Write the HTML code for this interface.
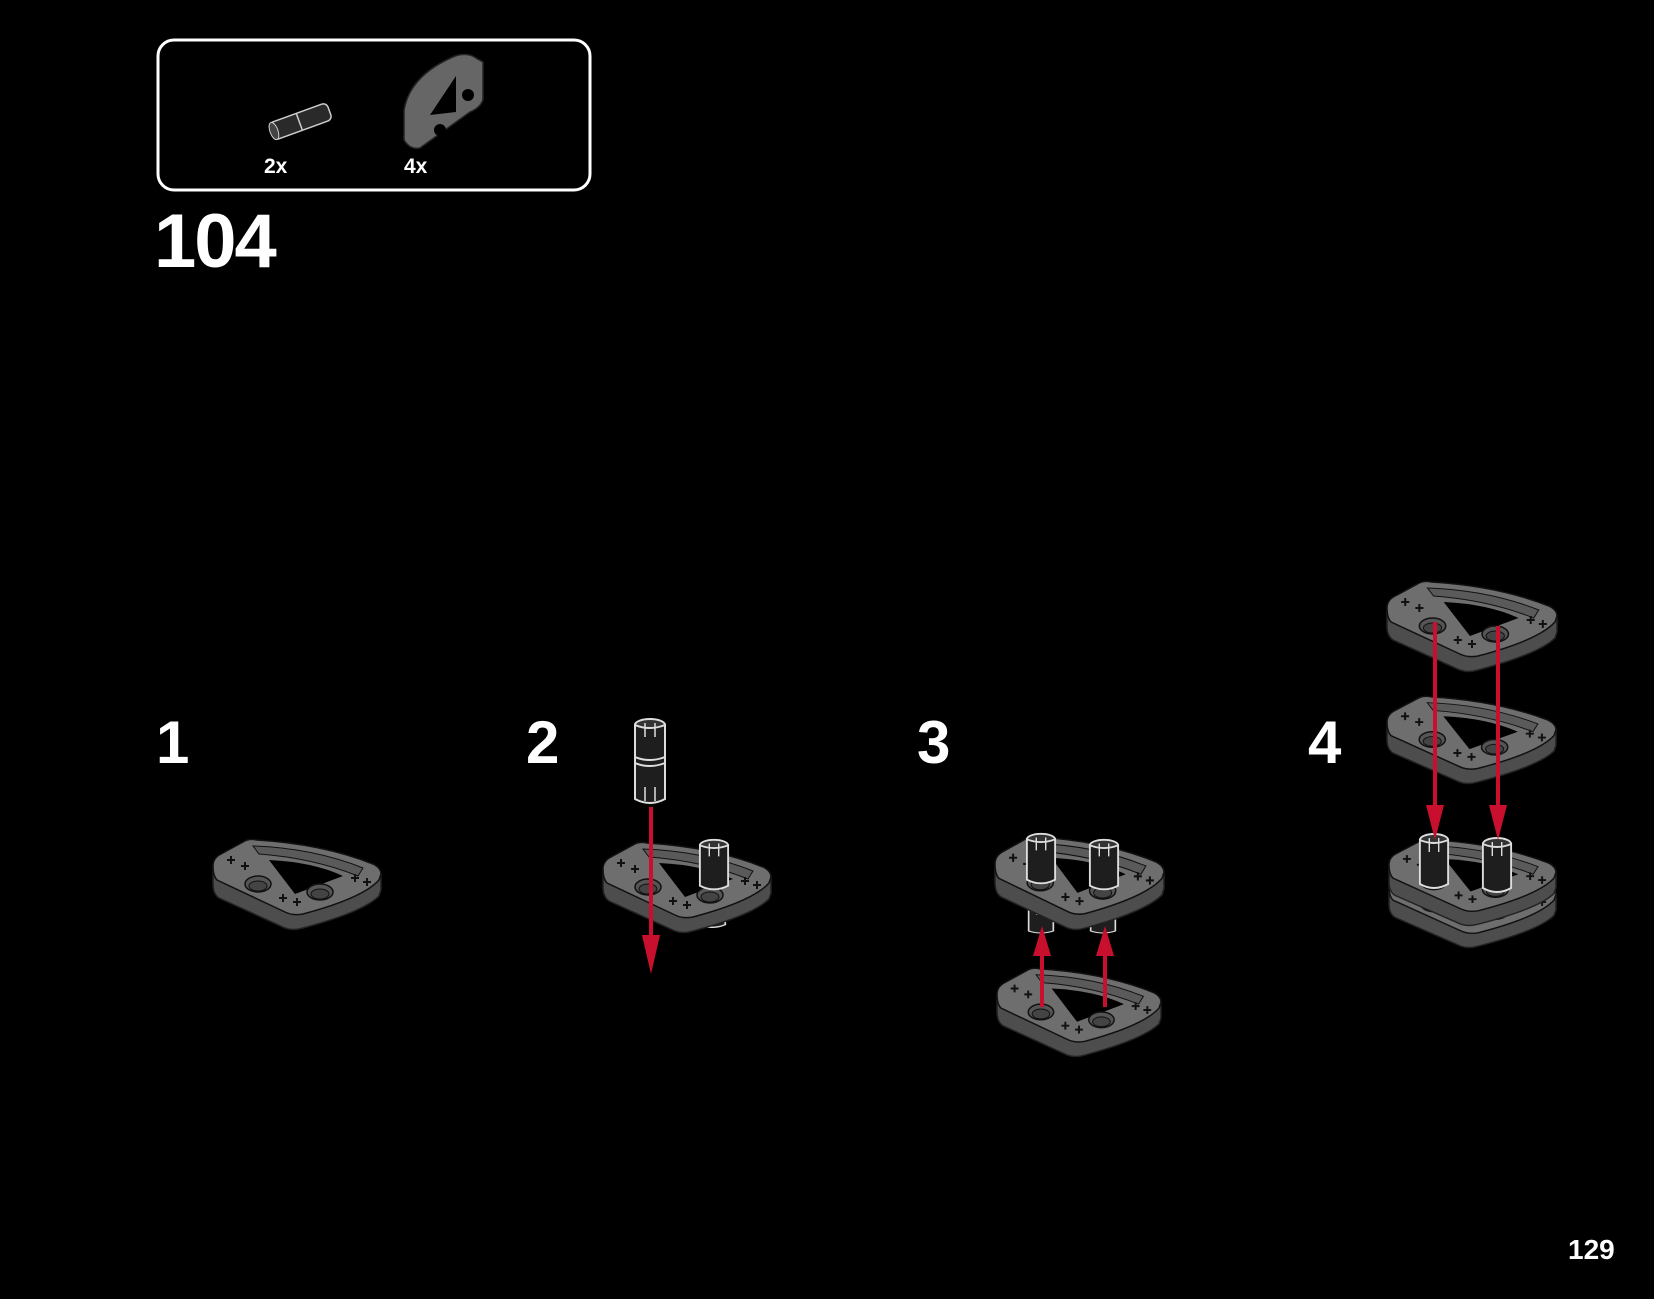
<!DOCTYPE html>
<html><head><meta charset="utf-8"><style>
html,body{margin:0;padding:0;background:#000;}
body{width:1654px;height:1299px;position:relative;overflow:hidden;font-family:"Liberation Sans",sans-serif;color:#fff;font-weight:bold;}
.t{position:absolute;line-height:1;}
</style></head><body>
<svg width="1654" height="1299" style="position:absolute;left:0;top:0">
<defs>
<symbol id="plate" viewBox="0 0 168 94" overflow="visible" preserveAspectRatio="none">
 <path d="M0,30 L0,48 Q0,58 6,62 L72,92 Q80,95 90,92 Q150,76 166,60 L168,54 L168,38 Q168,32 160,28 Z" fill="#4d4d4d" stroke="#222" stroke-width="1.5"/>
 <path d="M0,30 Q0,22 8,18 L30,6 Q36,2 44,4 Q110,8 160,28 Q168,32 168,38 L166,44 Q150,62 90,78 Q80,80 72,76 L4,44 Q0,40 0,30 Z" fill="#6e6e6e" stroke="#111" stroke-width="1.5"/>
 <path d="M40,10 Q100,12 150,32 L145,40 Q100,22 46,18 Z" fill="#5a5a5a" stroke="#111" stroke-width="1"/>
 <path d="M56,24 Q100,26 130,40 L82,58 Z" fill="#000"/>
 <ellipse cx="45" cy="48" rx="13" ry="8" fill="#555" stroke="#111" stroke-width="1.5"/>
 <ellipse cx="45" cy="50" rx="9" ry="5" fill="#444" stroke="#111"/>
 <ellipse cx="107" cy="56" rx="13" ry="8" fill="#555" stroke="#111" stroke-width="1.5"/>
 <ellipse cx="107" cy="58" rx="9" ry="5" fill="#444" stroke="#111"/>
 <g stroke="#111" stroke-width="2" fill="none">
  <path d="M14,24 l8,0 M18,20 l0,8 M28,30 l8,0 M32,26 l0,8 M66,62 l8,0 M70,58 l0,8 M80,66 l8,0 M84,62 l0,8 M138,42 l8,0 M142,38 l0,8 M150,46 l8,0 M154,42 l0,8"/>
 </g>
</symbol>
<symbol id="pin" viewBox="0 0 34 90" overflow="visible" preserveAspectRatio="none">
 <ellipse cx="17" cy="8" rx="15" ry="6" fill="#333" stroke="#ddd" stroke-width="2"/>
 <path d="M2,8 L2,82 Q17,90 32,82 L32,8 Q17,14 2,8Z" fill="#1e1e1e" stroke="#ddd" stroke-width="2"/>
 <path d="M2,40 Q17,46 32,40 M2,46 Q17,52 32,46" stroke="#ddd" stroke-width="2" fill="none"/>
 <path d="M12,6 l0,14 M22,6 l0,14 M12,70 l0,14 M22,70 l0,14" stroke="#ddd" stroke-width="1.5"/>
</symbol>
<symbol id="pinS" viewBox="0 0 34 60" overflow="visible" preserveAspectRatio="none">
 <ellipse cx="17" cy="8" rx="15" ry="6" fill="#333" stroke="#ddd" stroke-width="2"/>
 <path d="M2,8 L2,52 Q17,60 32,52 L32,8 Q17,14 2,8Z" fill="#1e1e1e" stroke="#ddd" stroke-width="2"/>
 <path d="M12,6 l0,14 M22,6 l0,14" stroke="#ddd" stroke-width="1.5"/>
</symbol>
</defs>
<rect x="158" y="40" width="432" height="150" rx="16" fill="none" stroke="#fff" stroke-width="3"/>
<g transform="translate(266,118) rotate(-20)">
 <rect x="0" y="6" width="62" height="18" rx="5" fill="#2a2a2a" stroke="#ccc" stroke-width="1.5"/>
 <ellipse cx="3" cy="15" rx="4" ry="9" fill="#444" stroke="#ccc"/>
 <line x1="30" y1="6" x2="30" y2="24" stroke="#ccc" stroke-width="1.5"/>
</g>
<path d="M404,140 L404,110 Q410,75 455,56 Q468,52 476,58 L483,62 L483,100 Q480,108 470,112 L420,148 Q410,150 404,140Z" fill="#666" stroke="#222" stroke-width="1.5"/>
<path d="M430,115 L456,76 L456,112Z" fill="#000"/>
<circle cx="468" cy="95" r="6" fill="#000"/><circle cx="440" cy="130" r="6" fill="#000"/>

<use href="#plate" x="213" y="836" width="168" height="94"/>

<use href="#pinS" x="697" y="890" width="30" height="40"/>
<use href="#plate" x="603" y="839" width="168" height="94"/>
<use href="#pinS" x="698" y="838" width="32" height="55"/>
<use href="#pin" x="633" y="717" width="34" height="90"/>
<line x1="651" y1="807" x2="651" y2="945" stroke="#c8102e" stroke-width="4"/>
<polygon points="642,935 660,935 651,974" fill="#c8102e"/>

<use href="#pinS" x="1027" y="905" width="28" height="30"/>
<use href="#pinS" x="1089" y="905" width="28" height="30"/>
<use href="#plate" x="995" y="833" width="169" height="97"/>
<use href="#pinS" x="1025" y="832" width="32" height="55"/>
<use href="#pinS" x="1088" y="838" width="32" height="55"/>
<use href="#plate" x="997" y="965" width="164" height="92"/>
<line x1="1042" y1="1007" x2="1042" y2="950" stroke="#c8102e" stroke-width="4"/>
<polygon points="1033,956 1051,956 1042,926" fill="#c8102e"/>
<line x1="1105" y1="1007" x2="1105" y2="950" stroke="#c8102e" stroke-width="4"/>
<polygon points="1096,956 1114,956 1105,926" fill="#c8102e"/>

<use href="#plate" x="1389" y="858" width="167" height="90"/>
<use href="#plate" x="1389" y="836" width="167" height="90"/>
<use href="#pinS" x="1418" y="832" width="32" height="60"/>
<use href="#pinS" x="1481" y="836" width="32" height="60"/>
<use href="#plate" x="1387" y="693" width="169" height="91"/>
<use href="#plate" x="1387" y="578" width="170" height="94"/>
<line x1="1435" y1="622" x2="1435" y2="810" stroke="#c8102e" stroke-width="4"/>
<polygon points="1426,805 1444,805 1435,840" fill="#c8102e"/>
<line x1="1498" y1="626" x2="1498" y2="810" stroke="#c8102e" stroke-width="4"/>
<polygon points="1489,805 1507,805 1498,840" fill="#c8102e"/>
</svg>
<div class="t" style="left:264px;top:156px;font-size:21px">2x</div>
<div class="t" style="left:404px;top:156px;font-size:21px">4x</div>
<div class="t" style="left:154px;top:204px;font-size:76px;letter-spacing:-2px">104</div>
<div class="t" style="left:156px;top:713px;font-size:60px">1</div>
<div class="t" style="left:526px;top:713px;font-size:60px">2</div>
<div class="t" style="left:917px;top:713px;font-size:60px">3</div>
<div class="t" style="left:1308px;top:713px;font-size:60px">4</div>
<div class="t" style="left:1568px;top:1236px;font-size:28px">129</div>
</body></html>
